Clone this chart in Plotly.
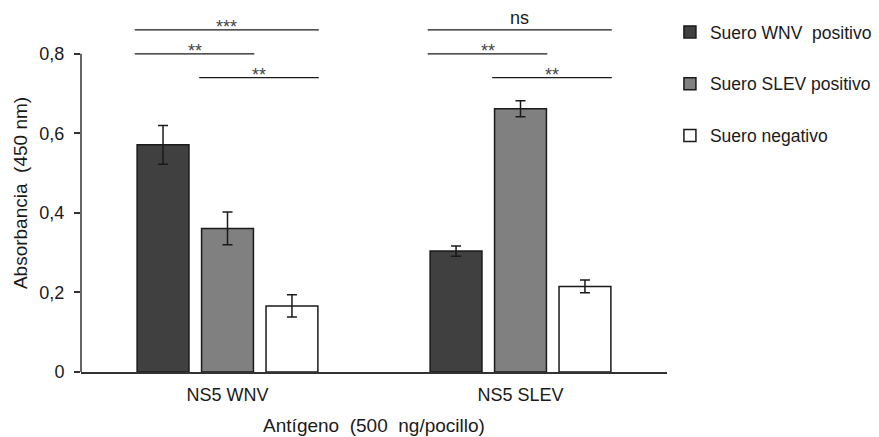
import plotly.graph_objects as go

categories = ["NS5 WNV", "NS5 SLEV"]
series_names = ["Suero WNV  positivo", "Suero SLEV positivo", "Suero negativo"]
wnv_pos = [0.571, 0.304]
slev_pos = [0.361, 0.662]
negativo = [0.166, 0.215]
wnv_err = [0.049, 0.013]
slev_err = [0.041, 0.020]
neg_err = [0.028, 0.016]
colors = ["#404040", "#808080", "#ffffff"]

# significance brackets: (category index, first bar, last bar, level, label)
sig_groups = [0, 0, 0, 1, 1, 1]
sig_from = [0, 0, 1, 0, 0, 1]
sig_to = [2, 1, 2, 2, 1, 2]
sig_level = [0.86, 0.80, 0.74, 0.86, 0.80, 0.74]
sig_label = ["***", "**", "**", "ns", "**", "**"]

yticks = [0, 0.2, 0.4, 0.6, 0.8]
yticktext = ["0", "0,2", "0,4", "0,6", "0,8"]

values = [wnv_pos, slev_pos, negativo]
errors = [wnv_err, slev_err, neg_err]

slot = 0.22
barw = 0.177
xpos = [0, 1]

fig = go.Figure()
for j in range(3):
    fig.add_trace(go.Bar(
        x=[p + (j - 1) * slot for p in xpos],
        y=values[j],
        width=barw,
        name=series_names[j],
        legendgroup=series_names[j],
        marker=dict(color=colors[j], line=dict(color="#1a1a1a", width=1.5)),
        error_y=dict(type="data", array=errors[j], color="#1a1a1a", thickness=1.5, width=5),
    ))

shapes = []
annotations = []
for g, a, b, lev, lab in zip(sig_groups, sig_from, sig_to, sig_level, sig_label):
    x0 = xpos[g] + (a - 1) * slot - barw / 2 - 0.008
    x1 = xpos[g] + (b - 1) * slot + barw / 2 + 0.003
    shapes.append(dict(type="line", xref="x", yref="y", x0=x0, x1=x1, y0=lev, y1=lev,
                       line=dict(color="#1a1a1a", width=1.3)))
    is_ns = lab == "ns"
    annotations.append(dict(x=(x0 + x1) / 2, y=lev, xref="x", yref="y", text=lab,
                            showarrow=False, yanchor="bottom", yshift=0 if is_ns else -9,
                            font=dict(size=18, color="#1a1a1a" if is_ns else "#444444")))

# y axis line only up to 0.8
shapes.append(dict(type="line", xref="paper", yref="y", x0=0, x1=0, y0=0, y1=0.8,
                   line=dict(color="#333333", width=1.5)))

fig.update_layout(
    width=879, height=437,
    margin=dict(l=81, r=212, t=14, b=65, autoexpand=False),
    plot_bgcolor="white", paper_bgcolor="white",
    font=dict(family="Liberation Sans, Arial, sans-serif", size=18, color="#1a1a1a"),
    barmode="overlay",
    showlegend=True,
    legend=dict(x=1.005, y=1.0, xanchor="left", yanchor="top",
                traceorder="grouped", tracegroupgap=26,
                font=dict(size=17.5, color="#1a1a1a"), itemwidth=30),
    shapes=shapes,
    annotations=annotations,
    xaxis=dict(range=[-0.5, 1.5], tickvals=xpos, ticktext=categories,
               showline=True, linecolor="#333333", linewidth=1.5, ticks="",
               showgrid=False, zeroline=False, ticklabelstandoff=6, automargin=False,
               title=dict(text="Antígeno  (500  ng/pocillo)", standoff=14, font=dict(size=19)),
               tickfont=dict(size=18)),
    yaxis=dict(range=[0, 0.9], tickvals=yticks, ticktext=yticktext,
               ticks="outside", ticklen=6, tickcolor="#333333", tickwidth=1.5,
               showline=False, showgrid=False, zeroline=False, ticklabelstandoff=6,
               automargin=False,
               title=dict(text="Absorbancia  (450 nm)", standoff=6, font=dict(size=19)),
               tickfont=dict(size=18)),
)

fig.write_html("out.html")
